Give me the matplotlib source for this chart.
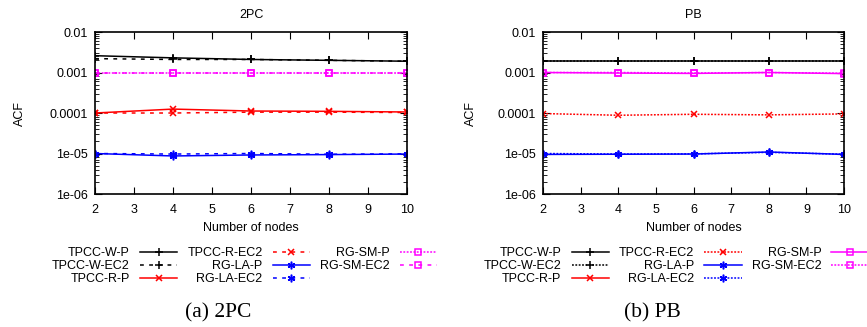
import numpy as np
import matplotlib
matplotlib.use("Agg")
import matplotlib.pyplot as plt
from matplotlib.ticker import LogLocator, NullFormatter

plt.rcParams['font.family'] = ['Liberation Sans', 'DejaVu Sans']
plt.rcParams['font.size'] = 9

nodes = [2, 4, 6, 8, 10]
names = ["TPCC-W-P", "TPCC-W-EC2", "TPCC-R-P", "TPCC-R-EC2",
         "RG-LA-P", "RG-LA-EC2", "RG-SM-P", "RG-SM-EC2"]

# 2PC
pc_w_p = [0.0026, 0.0023, 0.0021, 0.0020, 0.0019]
pc_w_ec2 = [0.0022, 0.0021, 0.0021, 0.0020, 0.0019]
pc_r_p = [0.0001, 0.000125, 0.000112, 0.00011, 0.000106]
pc_r_ec2 = [0.0001, 0.0001, 0.000105, 0.000105, 0.000103]
pc_la_p = [1.0e-5, 8.7e-6, 9.2e-6, 9.4e-6, 9.7e-6]
pc_la_ec2 = [1.0e-5, 9.7e-6, 1.0e-5, 9.6e-6, 9.8e-6]
pc_sm_p = [0.001, 0.001, 0.001, 0.001, 0.001]
pc_sm_ec2 = [0.001, 0.001, 0.001, 0.001, 0.001]

# PB  (TPCC-R-P not drawn in the original)
pb_w_p = [0.0019, 0.0019, 0.0019, 0.0019, 0.0019]
pb_w_ec2 = [0.0019, 0.0019, 0.0019, 0.0019, 0.0019]
pb_r_p = [np.nan, np.nan, np.nan, np.nan, np.nan]
pb_r_ec2 = [9.7e-5, 8.8e-5, 9.3e-5, 9.0e-5, 9.5e-5]
pb_la_p = [9.5e-6, 9.6e-6, 9.7e-6, 1.09e-5, 9.5e-6]
pb_la_ec2 = [1.0e-5, 9.7e-6, 9.8e-6, 1.07e-5, 9.6e-6]
pb_sm_p = [0.001, 0.00097, 0.00095, 0.001, 0.00094]
pb_sm_ec2 = [0.001, 0.001, 0.00097, 0.001, 0.00096]

yticks = [1e-6, 1e-5, 1e-4, 1e-3, 1e-2]
ytick_labels = ["1e-06", "1e-05", "0.0001", "0.001", "0.01"]

colors = ['black', 'black', 'red', 'red', 'blue', 'blue', 'magenta', 'magenta']
markers = ['+', '+', 'x', 'x', (6, 2, 0), (6, 2, 0), 's', 's']
msizes = [6, 6, 5, 5, 5.5, 5.5, 5, 5]


def panel(ax, series, styles, title, lab_x):
    for i in range(len(series)):
        mk = markers[i]
        ax.plot(nodes, series[i], color=colors[i], linestyle=styles[i], lw=1.1,
                marker=mk, ms=msizes[i],
                mfc='none' if mk == 's' else colors[i], mew=1.1, label=names[i])
    ax.set_yscale('log')
    ax.set_ylim(1e-6, 1e-2)
    ax.set_xlim(2, 10)
    ax.set_xticks(range(2, 11))
    ax.set_yticks(yticks)
    ax.set_yticklabels(ytick_labels)
    ax.yaxis.set_minor_locator(LogLocator(base=10, subs=np.arange(2, 10)))
    ax.yaxis.set_minor_formatter(NullFormatter())
    ax.tick_params(which='both', direction='in', top=True, right=True)
    ax.tick_params(which='major', length=5, width=0.8)
    ax.tick_params(which='minor', length=3, width=0.6)
    ax.tick_params(axis='x', pad=7)
    ax.tick_params(axis='y', pad=5)
    for s in ax.spines.values():
        s.set_linewidth(1.2)
    ax.set_title(title, fontsize=9, pad=10)
    ax.set_xlabel("Number of nodes")
    ax.set_ylabel("ACF")
    ax.xaxis.set_label_coords(0.5, -0.17)
    ax.yaxis.set_label_coords(lab_x, 0.5)


fig = plt.figure(figsize=(8.67, 3.27), dpi=100)
ax1 = fig.add_axes([0.1096, 0.4067, 0.3599, 0.4954])
ax2 = fig.add_axes([0.6263, 0.4067, 0.3472, 0.4954])

dash = (0, (2.5, 3.5))
dot = (0, (1.2, 1.0))
panel(ax1, [pc_w_p, pc_w_ec2, pc_r_p, pc_r_ec2, pc_la_p, pc_la_ec2, pc_sm_p, pc_sm_ec2],
      ['-', dash, '-', dash, '-', dash, dot, dash], "2PC", -0.22)
panel(ax2, [pb_w_p, pb_w_ec2, pb_r_p, pb_r_ec2, pb_la_p, pb_la_ec2, pb_sm_p, pb_sm_ec2],
      ['-', dot, '-', dot, '-', dot, '-', dot], "PB", -0.22)

# legends below the plots, text first like gnuplot
for ax, anchor in [(ax1, (0.06, 0.245)), (ax2, (0.558, 0.245))]:
    h, l = ax.get_legend_handles_labels()
    fig.legend(h, l, ncol=3, loc='upper left', bbox_to_anchor=anchor, frameon=False,
               markerfirst=False, handlelength=3.0, handletextpad=0.8,
               labelspacing=0.08, columnspacing=0.8, borderaxespad=0, borderpad=0)

fig.text(0.252, 0.03, "(a) 2PC", family='Liberation Serif', fontsize=15.5, ha='center')
fig.text(0.752, 0.03, "(b) PB", family='Liberation Serif', fontsize=15.5, ha='center')

fig.savefig("out.png", dpi=100)
